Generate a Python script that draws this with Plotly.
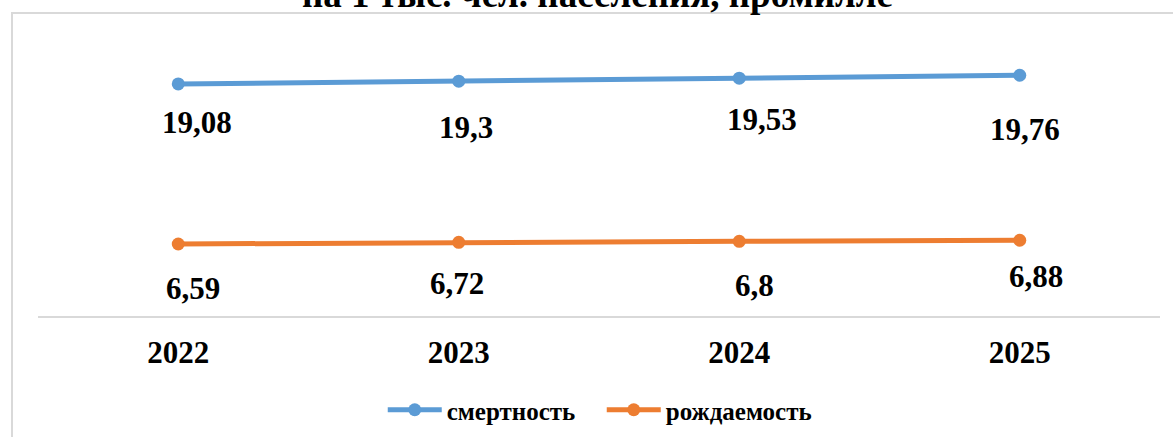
import plotly.graph_objects as go

years = ["2022", "2023", "2024", "2025"]
mortality = [19.08, 19.3, 19.53, 19.76]
birth = [6.59, 6.72, 6.8, 6.88]
mort_labels = ["19,08", "19,3", "19,53", "19,76"]
birth_labels = ["6,59", "6,72", "6,8", "6,88"]

W, H = 1173, 437
ml, mr, mt, mb = 38, 13, 40, 121
pw, ph = W - ml - mr, H - mt - mb

FONT = "Liberation Serif, Times New Roman, serif"
BLUE = "#5B9BD5"
ORANGE = "#ED7D31"


def px_y(ypix):
    return (H - mb - ypix) / ph


def px_x(xpix):
    return (xpix - ml) / pw


fig = go.Figure()
fig.add_trace(go.Scatter(x=years, y=mortality, mode="lines+markers", name="<b>смертность</b>",
                         line=dict(color=BLUE, width=5), marker=dict(size=13, color=BLUE)))
fig.add_trace(go.Scatter(x=years, y=birth, mode="lines+markers", name="<b>рождаемость</b>",
                         line=dict(color=ORANGE, width=5), marker=dict(size=13, color=ORANGE)))

mort_dy = [-39, -46, -41, -54]
mort_dx = [19, 7, 23, 5]
birth_dy = [-45, -41, -44, -36]
birth_dx = [15, -2, 15, 16]
for i in range(len(years)):
    fig.add_annotation(x=i, y=mortality[i], xref="x", yref="y",
                       text="<b>" + mort_labels[i] + "</b>", showarrow=False,
                       yshift=mort_dy[i], xshift=mort_dx[i],
                       font=dict(family=FONT, size=31, color="black"))
    fig.add_annotation(x=i, y=birth[i], xref="x", yref="y",
                       text="<b>" + birth_labels[i] + "</b>", showarrow=False,
                       yshift=birth_dy[i], xshift=birth_dx[i],
                       font=dict(family=FONT, size=31, color="black"))

# title (cut off at the top in the reference)
fig.add_annotation(xref="paper", yref="paper", x=px_x(597), y=px_y(17),
                   text="<b>на 1 тыс. чел. населения, промилле</b>", showarrow=False,
                   yanchor="bottom", xanchor="center",
                   font=dict(family=FONT, size=37, color="black"))

# chart border (left and top edges visible)
fig.add_shape(type="line", xref="paper", yref="paper",
              x0=px_x(12), x1=px_x(12), y0=px_y(460), y1=px_y(13),
              line=dict(color="#D9D9D9", width=2), layer="below")
fig.add_shape(type="line", xref="paper", yref="paper",
              x0=px_x(11), x1=px_x(1200), y0=px_y(13), y1=px_y(13),
              line=dict(color="#D9D9D9", width=2), layer="below")

fig.update_layout(
    width=W, height=H,
    margin=dict(l=ml, r=mr, t=mt, b=mb, autoexpand=False),
    paper_bgcolor="white", plot_bgcolor="white",
    font=dict(family=FONT, color="black"),
    showlegend=True,
    legend=dict(orientation="h", x=0.513, xanchor="center", xref="container",
                y=(H - 410) / H, yanchor="middle", yref="container",
                font=dict(family=FONT, size=25, color="black"),
                itemwidth=54, entrywidth=150, entrywidthmode="pixels",
                bgcolor="rgba(0,0,0,0)"),
    xaxis=dict(type="category", range=[-0.5, 3.5], showgrid=False, zeroline=False,
               showline=True, linecolor="#D9D9D9", linewidth=2, ticks="",
               tickfont=dict(family=FONT, size=31, color="black"),
               tickprefix="<b>", ticksuffix="</b>", ticklabelstandoff=8),
    yaxis=dict(range=[0.97, 22.51], showticklabels=False, showgrid=False,
               zeroline=False, showline=False, ticks=""),
)

fig.write_html("out.html", config={"displayModeBar": False},
               post_script="document.body.style.margin='0';document.body.style.padding='0';document.body.style.overflow='hidden';")
